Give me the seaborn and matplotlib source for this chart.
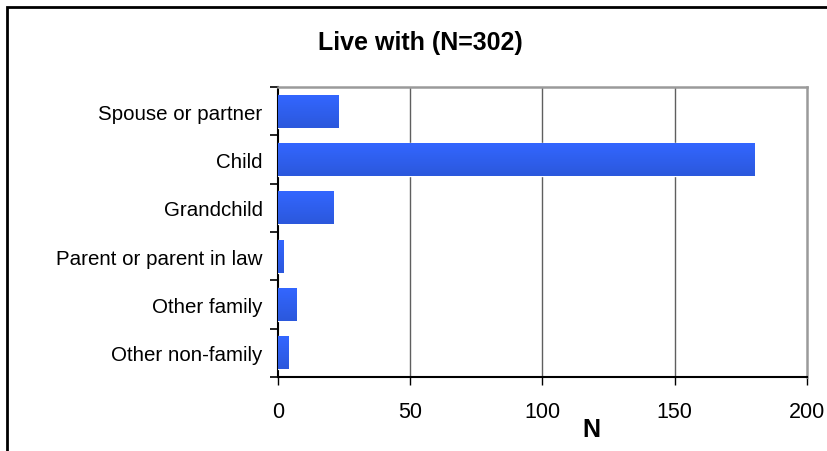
import numpy as np
import pandas as pd
import matplotlib
matplotlib.use("Agg")
import matplotlib.pyplot as plt
from matplotlib.patches import Rectangle
from matplotlib.colors import LinearSegmentedColormap
import seaborn as sns

categories = ["Spouse or partner", "Child", "Grandchild", "Parent or parent in law",
              "Other family", "Other non-family"]
counts = [23, 180, 21, 2, 7, 4]
x_ticks = [0, 50, 100, 150, 200]
title = "Live with (N=302)"
x_label = "N"

sns.set_theme(style="white")
plt.rcParams["font.family"] = ["Liberation Sans", "DejaVu Sans"]
plt.rcParams["text.color"] = "black"

df = pd.DataFrame({"category": categories, "n": counts})

fig = plt.figure(figsize=(8.28, 4.52), dpi=100)
ax = fig.add_axes([278 / 828, 1 - 378 / 452, (807 - 278) / 828, (378 - 88) / 452])

sns.barplot(data=df, y="category", x="n", orient="h", color="#3366FF",
            width=0.68, saturation=1, ax=ax, zorder=3)

# vertical gradient fill on each bar (lighter at the top), clipped to the bar shape
grad = LinearSegmentedColormap.from_list("bar", ["#2B58DC", "#3366FF"])
g = np.linspace(1, 0, 64).reshape(-1, 1)
for p in ax.patches:
    x0, y0 = p.get_x(), p.get_y()
    w, h = p.get_width(), p.get_height()
    im = ax.imshow(g, cmap=grad, vmin=0, vmax=1, aspect="auto",
                   extent=[x0, x0 + w, y0 + h, y0],
                   origin="upper", zorder=3.5, interpolation="bilinear")
    im.set_clip_path(p)

ax.set_xlim(0, 200)
ax.set_ylim(len(categories) - 0.5, -0.5)
ax.set_xticks(x_ticks)
ax.set_xticklabels([str(t) for t in x_ticks], fontsize=15.5, color="black")
ax.set_yticks(range(len(categories)))
ax.set_yticklabels(categories, fontsize=14.8, color="black")
ax.set_yticks(np.arange(-0.5, len(categories), 1.0), minor=True)
ax.tick_params(axis="y", which="major", length=0, pad=11)
ax.tick_params(axis="y", which="minor", length=6, width=1.2, color="black", left=True)
ax.tick_params(axis="x", which="major", length=6, width=1.0, color="black",
               bottom=True, pad=11)
ax.set_xlabel("")
ax.set_ylabel("")

ax.grid(False)
for xv in x_ticks[1:-1]:
    ax.axvline(xv, color="#5f5f5f", lw=1.0, zorder=1)

for side in ["left", "bottom"]:
    ax.spines[side].set_color("black")
    ax.spines[side].set_linewidth(1.5)
for side in ["top", "right"]:
    ax.spines[side].set_color("#9a9a9a")
    ax.spines[side].set_linewidth(1.8)
    ax.spines[side].set_visible(True)

fig.text(420 / 828, 1 - 43 / 452, title, ha="center", va="center",
         fontsize=18, fontweight="bold", color="black")
fig.text(591 / 828, 1 - 430 / 452, x_label, ha="center", va="center",
         fontsize=18, fontweight="bold", color="black")

# chart frame (extends past the right and bottom edges)
fig.patches.append(Rectangle((7.5 / 828, -0.1), 1.2, 1 - 7.5 / 452 + 0.1,
                             transform=fig.transFigure, fill=False,
                             edgecolor="black", lw=2.0))

fig.savefig("out.png", dpi=100, facecolor="white")
